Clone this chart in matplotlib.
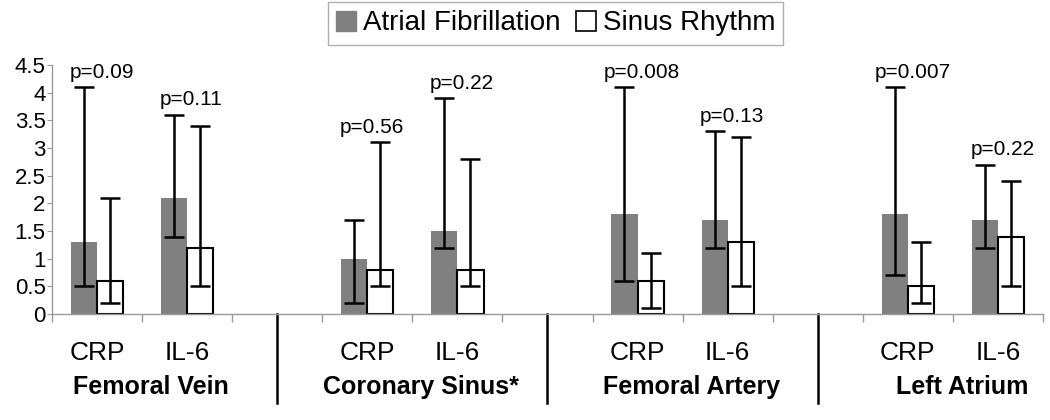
import numpy as np
import matplotlib
matplotlib.use("Agg")
import matplotlib.pyplot as plt
from matplotlib.patches import Patch
from matplotlib.transforms import blended_transform_factory

plt.rcParams["font.family"] = ["Liberation Sans", "DejaVu Sans"]

groups = ["Femoral Vein", "Coronary Sinus*", "Femoral Artery", "Left Atrium"]
markers = ["CRP", "IL-6"]

# bar heights and error-bar ends, ordered group by group (CRP, IL-6)
af_mean = [1.3, 2.1, 1.0, 1.5, 1.8, 1.7, 1.8, 1.7]
af_low = [0.5, 1.4, 0.2, 1.2, 0.6, 1.2, 0.7, 1.2]
af_high = [4.1, 3.6, 1.7, 3.9, 4.1, 3.3, 4.1, 2.7]
sr_mean = [0.6, 1.2, 0.8, 0.8, 0.6, 1.3, 0.5, 1.4]
sr_low = [0.2, 0.5, 0.5, 0.5, 0.1, 0.5, 0.2, 0.5]
sr_high = [2.1, 3.4, 3.1, 2.8, 1.1, 3.2, 1.3, 2.4]
p_labels = ["p=0.09", "p=0.11", "p=0.56", "p=0.22",
            "p=0.008", "p=0.13", "p=0.007", "p=0.22"]
yticks = [0, 0.5, 1, 1.5, 2, 2.5, 3, 3.5, 4, 4.5]

af_mean, af_low, af_high = map(np.array, (af_mean, af_low, af_high))
sr_mean, sr_low, sr_high = map(np.array, (sr_mean, sr_low, sr_high))

# one empty slot between groups
x = np.array([3 * g + m for g in range(len(groups)) for m in range(len(markers))])
w = 0.29

fig = plt.figure(figsize=(10.5, 4.2), dpi=100)
ax = fig.add_axes([0.0495, 0.2524, 0.9438, 0.5928])

ax.bar(x, af_mean, width=-w, align="edge", color="#808080", zorder=2)
ax.bar(x, sr_mean, width=w, align="edge", color="white", edgecolor="black",
       linewidth=1.5, zorder=2)

err_kw = dict(fmt="none", ecolor="black", elinewidth=1.8, capsize=7.5,
              capthick=1.8, zorder=3)
ax.errorbar(x - w / 2, af_mean, yerr=[af_mean - af_low, af_high - af_mean], **err_kw)
ax.errorbar(x + w / 2, sr_mean, yerr=[sr_mean - sr_low, sr_high - sr_mean], **err_kw)

for xi, top, lab in zip(x, np.maximum(af_high, sr_high), p_labels):
    ax.annotate(lab, (xi + 0.05, top), xytext=(0, 4), textcoords="offset points",
                ha="center", va="bottom", fontsize=15)

n_slots = 3 * len(groups) - 1
ax.set_xlim(-0.5, n_slots - 0.5)
ax.set_ylim(0, 4.5)
ax.set_yticks(yticks)
ax.set_yticklabels([f"{t:g}" for t in yticks])
ax.set_xticks([])
ax.set_xticks(np.arange(-0.5, n_slots, 1.0), minor=True)
ax.tick_params(axis="x", which="minor", direction="out", length=6,
               color="#999999", width=1)
ax.tick_params(axis="y", direction="out", length=3.5, color="#999999",
               labelsize=16, pad=1)
for side in ("top", "right"):
    ax.spines[side].set_visible(False)
for side in ("left", "bottom"):
    ax.spines[side].set_color("#999999")
    ax.spines[side].set_linewidth(1)

trans = blended_transform_factory(ax.transData, ax.transAxes)
for xi, g in zip(x, np.repeat(np.arange(len(groups)), len(markers))):
    ax.text(xi, -0.157, markers[xi - 3 * g], transform=trans, ha="center",
            va="center", fontsize=19)
for g, name in enumerate(groups):
    ax.text(3 * g + 0.6, -0.293, name, transform=trans, ha="center",
            va="center", fontsize=18, fontweight="bold")
for g in range(1, len(groups)):
    ax.plot([3 * g - 1, 3 * g - 1], [0, -0.357], transform=trans, color="black",
            linewidth=1.8, clip_on=False)

handles = [Patch(facecolor="#808080", edgecolor="#808080", label="Atrial Fibrillation"),
           Patch(facecolor="white", edgecolor="black", linewidth=1.2, label="Sinus Rhythm")]
leg = fig.legend(handles=handles, loc="upper center", bbox_to_anchor=(0.529, 0.995),
                 ncol=2, fontsize=20, frameon=True, fancybox=False,
                 handlelength=0.72, handleheight=0.72, handletextpad=0.25,
                 columnspacing=0.55, borderpad=0.3, borderaxespad=0)
leg.get_frame().set_edgecolor("#999999")
leg.get_frame().set_linewidth(1)

fig.savefig("out.png", dpi=100)
